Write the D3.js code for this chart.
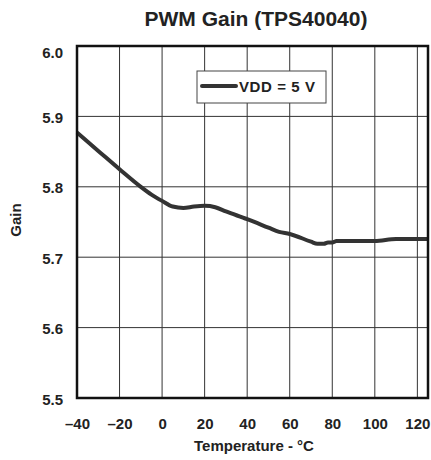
<!DOCTYPE html>
<html>
<head>
<meta charset="utf-8">
<script src="https://cdn.jsdelivr.net/npm/d3@7"></script>
<style>
  body { margin: 0; background: #fff; }
  svg text { font-family: "Liberation Sans", Arial, Helvetica, sans-serif; font-weight: bold; fill: #222; }
</style>
</head>
<body>
<svg id="chart" width="431" height="460"></svg>
<script>
// data
var temps = [-40, -30, -20, -10, -5, 0, 5, 10, 15, 20, 25, 30, 40, 50, 55, 60, 70, 73, 76, 78, 80, 82, 90, 100, 110, 125];
var gains = [5.877, 5.851, 5.825, 5.800, 5.789, 5.780, 5.772, 5.770, 5.772, 5.773, 5.771, 5.765, 5.754, 5.742, 5.736, 5.733, 5.722, 5.719, 5.719, 5.721, 5.721, 5.723, 5.723, 5.723, 5.726, 5.726];
var xTicks = [-40, -20, 0, 20, 40, 60, 80, 100, 120];
var yTicks = [5.5, 5.6, 5.7, 5.8, 5.9, 6.0];
var seriesName = "VDD = 5 V";

var margin = {top: 46, right: 3, bottom: 62, left: 77},
    width = 431 - margin.left - margin.right,
    height = 460 - margin.top - margin.bottom;

var x = d3.scaleLinear().domain([-40, 125]).range([0, width]);
var y = d3.scaleLinear().domain([5.5, 6.0]).range([height, 0]);

var svg = d3.select("#chart");

svg.append("text")
    .attr("x", 256)
    .attr("y", 26)
    .attr("text-anchor", "middle")
    .style("font-size", "21px")
    .text("PWM Gain (TPS40040)");

var g = svg.append("g")
    .attr("transform", "translate(" + margin.left + "," + margin.top + ")");

// grid
g.selectAll(".vgrid")
    .data(xTicks)
    .enter().append("line")
    .attr("class", "vgrid")
    .attr("x1", function(d) { return x(d); })
    .attr("x2", function(d) { return x(d); })
    .attr("y1", 0)
    .attr("y2", height)
    .attr("stroke", "#333")
    .attr("stroke-width", 1);

g.selectAll(".hgrid")
    .data(yTicks)
    .enter().append("line")
    .attr("class", "hgrid")
    .attr("x1", 0)
    .attr("x2", width)
    .attr("y1", function(d) { return y(d); })
    .attr("y2", function(d) { return y(d); })
    .attr("stroke", "#333")
    .attr("stroke-width", 1);

// axes (labels only)
var xAxis = d3.axisBottom(x)
    .tickValues(xTicks)
    .tickSize(0)
    .tickPadding(20)
    .tickFormat(function(d) { return d < 0 ? "\u2013" + Math.abs(d) : d; });

var yAxis = d3.axisLeft(y)
    .tickValues(yTicks)
    .tickSize(0)
    .tickPadding(14)
    .tickFormat(d3.format(".1f"));

g.append("g")
    .attr("class", "x axis")
    .attr("transform", "translate(0," + height + ")")
    .call(xAxis)
    .call(function(s) { s.select(".domain").remove(); })
    .selectAll("text")
    .style("font-size", "15px");

g.append("g")
    .attr("class", "y axis")
    .call(yAxis)
    .call(function(s) { s.select(".domain").remove(); })
    .selectAll("text")
    .style("font-size", "15px")
    .attr("dy", function(d) { return d === 6.0 ? "0.75em" : "0.4em"; });

// curve
var line = d3.line()
    .x(function(d, i) { return x(temps[i]); })
    .y(function(d) { return y(d); })
    .curve(d3.curveMonotoneX);

g.append("path")
    .datum(gains)
    .attr("d", line)
    .attr("fill", "none")
    .attr("stroke", "#333")
    .attr("stroke-width", 4)
    .attr("stroke-linejoin", "round");

// frame
g.append("rect")
    .attr("x", 0)
    .attr("y", 0)
    .attr("width", width)
    .attr("height", height)
    .attr("fill", "none")
    .attr("stroke", "#111")
    .attr("stroke-width", 2.5);

// legend
var legend = g.append("g").attr("transform", "translate(120,25)");
legend.append("rect")
    .attr("width", 129)
    .attr("height", 32)
    .attr("fill", "#fff")
    .attr("stroke", "#444")
    .attr("stroke-width", 1);
legend.append("line")
    .attr("x1", 5)
    .attr("x2", 39)
    .attr("y1", 15)
    .attr("y2", 15)
    .attr("stroke", "#333")
    .attr("stroke-width", 4)
    .attr("stroke-linecap", "round");
legend.append("text")
    .attr("x", 42)
    .attr("y", 21)
    .style("font-size", "15px")
    .style("letter-spacing", "0.6px")
    .text(seriesName);

// axis titles
svg.append("text")
    .attr("x", 254)
    .attr("y", 451)
    .attr("text-anchor", "middle")
    .style("font-size", "15px")
    .text("Temperature - \u00B0C");

svg.append("text")
    .attr("transform", "translate(21,220) rotate(-90)")
    .attr("text-anchor", "middle")
    .style("font-size", "15px")
    .text("Gain");
</script>
</body>
</html>
